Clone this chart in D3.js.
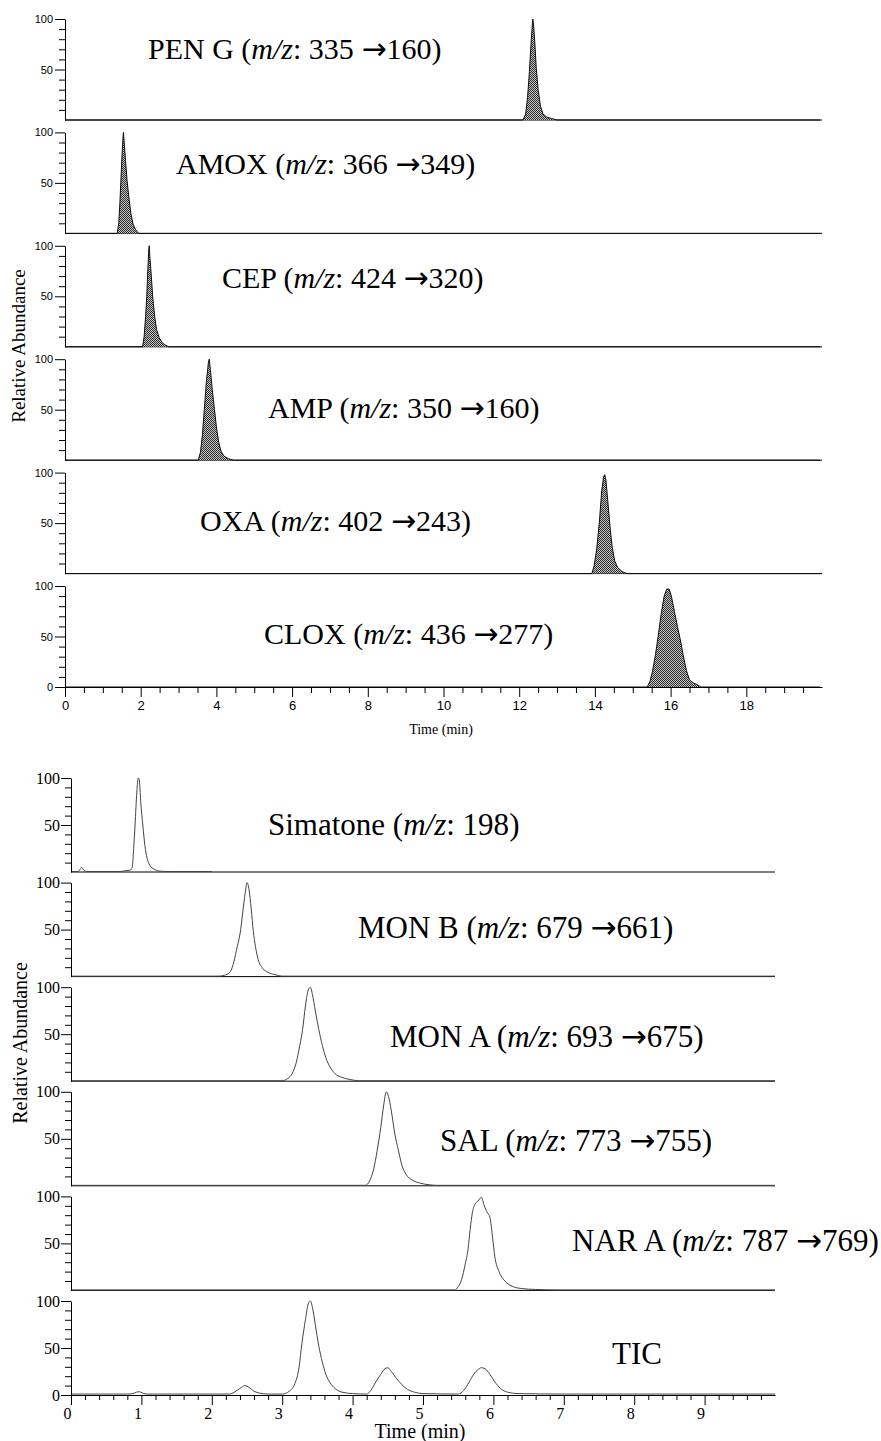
<!DOCTYPE html>
<html>
<head>
<meta charset="utf-8">
<script src="https://cdn.jsdelivr.net/npm/d3@7"></script>
<style>
  html, body { margin: 0; padding: 0; background: #fff; }
  svg { display: block; }
</style>
</head>
<body>
<svg id="chart" width="881" height="1441"></svg>
<script>
// ---------- β-lactam MRM traces (time in min, relative abundance in %) ----------
const lactamNames = ["PEN G", "AMOX", "CEP", "AMP", "OXA", "CLOX"];
const lactamTransitions = ["335 →160", "366 →349", "424 →320", "350 →160", "402 →243", "436 →277"];

const penG = [[0,0],[9.0,0],[12.10,0],[12.17,6],[12.22,22],[12.27,48],[12.32,80],[12.35,96],[12.36,100],[12.38,94],[12.41,78],[12.45,52],[12.50,30],[12.56,14],[12.63,6],[12.72,3],[12.85,1.5],[13.0,0],[19.95,0]];
const amox = [[0,0],[1.38,0],[1.42,10],[1.45,30],[1.48,55],[1.51,80],[1.535,97],[1.545,100],[1.56,92],[1.60,72],[1.64,52],[1.69,35],[1.74,20],[1.80,9],[1.86,4],[1.92,1],[1.96,0],[19.95,0]];
const cep  = [[0,0],[2.05,0],[2.09,10],[2.13,30],[2.16,50],[2.19,78],[2.215,97],[2.225,100],[2.24,90],[2.28,70],[2.32,48],[2.37,30],[2.42,17],[2.49,9],[2.57,4],[2.66,1.5],[2.75,0],[19.95,0]];
const amp  = [[0,0],[3.52,0],[3.58,8],[3.63,25],[3.68,50],[3.74,80],[3.79,97],[3.81,100],[3.84,90],[3.89,70],[3.95,50],[4.00,33],[4.06,18],[4.12,9],[4.20,4],[4.32,1.5],[4.45,0],[19.95,0]];
const oxa  = [[0,0],[13.92,0],[13.98,8],[14.05,25],[14.12,52],[14.18,82],[14.23,96],[14.26,98],[14.29,93],[14.34,72],[14.39,50],[14.45,28],[14.52,13],[14.60,6],[14.72,2],[14.85,0],[19.95,0]];
const clox = [[0,0],[15.38,0],[15.45,5],[15.52,15],[15.60,32],[15.67,50],[15.75,72],[15.83,90],[15.90,97],[15.96,97],[16.02,90],[16.10,75],[16.18,60],[16.25,48],[16.33,32],[16.42,16],[16.50,7],[16.60,4],[16.72,2],[16.80,0],[19.95,0]];
const lactamTraces = [penG, amox, cep, amp, oxa, clox];

const lactamTimeTicks = [0, 2, 4, 6, 8, 10, 12, 14, 16, 18];

// ---------- ionophore / triazine traces ----------
const ionoNames = ["Simatone", "MON B", "MON A", "SAL", "NAR A", "TIC"];
const ionoTransitions = ["198", "679 →661", "693 →675", "773 →755", "787 →769", null];

const simatone = [[0,0.5],[0.10,0.5],[0.13,3],[0.15,5],[0.18,2],[0.22,0.5],[0.70,0.5],[0.78,1.5],[0.84,2],[0.87,5],[0.89,25],[0.91,50],[0.935,85],[0.955,100],[0.97,98],[0.99,75],[1.02,50],[1.05,28],[1.08,15],[1.12,7],[1.18,3],[1.25,1],[1.4,0.5],[2.0,0.5]];
const monB = [[0,0.5],[2.10,0.5],[2.18,1.5],[2.25,4],[2.30,12],[2.35,28],[2.41,50],[2.45,75],[2.48,92],[2.50,100],[2.53,92],[2.56,72],[2.59,48],[2.62,32],[2.66,18],[2.72,9],[2.80,4.5],[2.90,2],[3.0,0.5],[10,0.5]];
const monA = [[0,0.5],[3.00,0.5],[3.08,3],[3.14,8],[3.20,20],[3.25,38],[3.29,55],[3.33,80],[3.37,97],[3.40,100],[3.43,92],[3.47,75],[3.52,55],[3.57,38],[3.62,25],[3.68,15],[3.75,8],[3.85,4],[3.95,2],[4.10,0.5],[10,0.5]];
const sal = [[0,0.5],[4.18,0.5],[4.24,5],[4.30,18],[4.35,38],[4.40,62],[4.44,85],[4.48,100],[4.52,92],[4.56,75],[4.60,55],[4.65,38],[4.70,22],[4.76,12],[4.85,6],[4.95,3],[5.10,1],[5.2,0.5],[10,0.5]];
const narA = [[0,0.5],[5.45,0.5],[5.50,4],[5.55,12],[5.60,28],[5.64,44],[5.67,65],[5.70,82],[5.74,92],[5.78,95],[5.83,99],[5.87,90],[5.92,82],[5.95,78],[5.99,55],[6.02,36],[6.08,20],[6.14,12],[6.19,8],[6.25,5],[6.32,3],[6.40,2],[6.60,1],[6.95,0.5],[10,0.5]];
const tic = [[0,1],[0.8,1],[0.88,1.5],[0.93,3],[0.97,3.5],[1.02,2],[1.08,1],[2.25,1],[2.32,3],[2.40,7],[2.47,10],[2.53,8],[2.60,4],[2.68,2],[2.80,1],[3.00,1],[3.10,4],[3.18,12],[3.24,30],[3.28,55],[3.33,80],[3.37,97],[3.40,100],[3.43,93],[3.47,75],[3.52,52],[3.57,35],[3.62,22],[3.68,13],[3.75,7],[3.85,3],[4.00,1.5],[4.20,1],[4.26,5],[4.33,14],[4.40,22],[4.46,28],[4.50,29],[4.55,25],[4.62,18],[4.70,11],[4.78,6],[4.88,3],[5.00,1.5],[5.50,1],[5.58,5],[5.65,13],[5.72,22],[5.78,27],[5.83,29],[5.88,28],[5.95,22],[6.02,14],[6.10,7],[6.20,3],[6.35,1.5],[7.0,1],[10,1]];
const ionoTraces = [simatone, monB, monA, sal, narA, tic];

const ionoTimeTicks = [0, 1, 2, 3, 4, 5, 6, 7, 8, 9];
const abundanceTicks = [50, 100];

// ---------- drawing ----------
const SERIF = "'Liberation Serif', 'Times New Roman', serif";
const SANS = "'Liberation Sans', Arial, sans-serif";
const ARROW_FONT = "'DejaVu Sans', sans-serif";
const svg = d3.select("#chart");
svg.append("rect").attr("width", 881).attr("height", 1441).attr("fill", "#fff");

// fine checker used for the shaded peaks
const defs = svg.append("defs");
const pat = defs.append("pattern").attr("id", "shade")
  .attr("width", 2).attr("height", 2).attr("patternUnits", "userSpaceOnUse");
pat.append("rect").attr("width", 2).attr("height", 2).attr("fill", "#c8c8c8");
pat.append("rect").attr("x", 0).attr("y", 0).attr("width", 1).attr("height", 1).attr("fill", "#2a2a2a");
pat.append("rect").attr("x", 1).attr("y", 1).attr("width", 1).attr("height", 1).attr("fill", "#2a2a2a");

// "NAME (m/z: a →b)" with italic m/z and a long arrow
function compoundLabel(g, x, y, size, name, trans) {
  const t = g.append("text").attr("x", x).attr("y", y)
    .attr("font-family", SERIF).attr("font-size", size).attr("fill", "#000");
  if (trans === null) { t.text(name); return; }
  t.append("tspan").text(name + " (");
  t.append("tspan").attr("font-style", "italic").text("m/z");
  const parts = trans.split("→");
  t.append("tspan").text(": " + parts[0]);
  if (parts.length > 1) {
    t.append("tspan").attr("font-family", ARROW_FONT).text("→");
    t.append("tspan").text(parts[1]);
  }
  t.append("tspan").text(")");
}

function styleAxis(g, font, size) {
  g.selectAll("path.domain").attr("stroke", "#000").attr("stroke-width", 1);
  g.selectAll(".tick line").attr("stroke", "#000").attr("stroke-width", 1);
  g.selectAll(".tick text").attr("font-family", font).attr("font-size", size).attr("fill", "#000");
}

function drawBlock(cfg) {
  const g = svg.append("g");
  const x = d3.scaleLinear().domain(cfg.domain).range(cfg.xRange);
  const n = cfg.traces.length;

  cfg.traces.forEach((trace, i) => {
    const base = cfg.base0 + i * cfg.pitch;
    const y = d3.scaleLinear().domain([0, 100]).range([base, base - cfg.height]);
    const last = i === n - 1;

    // baseline of each strip
    if (!last) {
      g.append("line").attr("x1", cfg.xRange[0]).attr("x2", cfg.xRange[1])
        .attr("y1", base).attr("y2", base).attr("stroke", "#000").attr("stroke-width", 1);
    }

    if (cfg.filled) {
      const area = d3.area().x(d => x(d[0])).y0(y(0)).y1(d => y(d[1])).curve(d3.curveLinear);
      g.append("path").datum(trace).attr("d", area).attr("fill", "url(#shade)");
      const line = d3.line().x(d => x(d[0])).y(d => y(d[1])).curve(d3.curveLinear);
      g.append("path").datum(trace).attr("d", line).attr("fill", "none")
        .attr("stroke", "#111").attr("stroke-width", 1);
    } else {
      const line = d3.line().x(d => x(d[0])).y(d => y(d[1])).curve(d3.curveMonotoneX);
      g.append("path").datum(trace).attr("d", line).attr("fill", "none")
        .attr("stroke", "#444").attr("stroke-width", 1);
    }

    // abundance axis
    const major = last ? [0].concat(abundanceTicks) : abundanceTicks;
    const ya = g.append("g").attr("transform", `translate(${cfg.xRange[0]},0)`)
      .call(d3.axisLeft(y).tickValues(major).tickSize(cfg.yTick).tickSizeOuter(0).tickPadding(cfg.yPad));
    styleAxis(ya, cfg.yFont, cfg.yFontSize);
    const minor = d3.range(10, 100, 10).filter(v => v !== 50);
    const ym = g.append("g").attr("transform", `translate(${cfg.xRange[0]},0)`)
      .call(d3.axisLeft(y).tickValues(minor).tickSize(cfg.yMinor).tickFormat(""));
    ym.select("path.domain").remove();
    styleAxis(ym, cfg.yFont, cfg.yFontSize);

    compoundLabel(g, cfg.labelX[i], cfg.labelY[i], cfg.labelSize, cfg.names[i], cfg.transitions[i]);

    if (last) {
      const xa = g.append("g").attr("transform", `translate(0,${base})`)
        .call(d3.axisBottom(x).tickValues(cfg.timeTicks).tickSize(cfg.xTick).tickSizeOuter(0).tickPadding(cfg.xPad));
      styleAxis(xa, cfg.xFont, cfg.xFontSize);
      xa.selectAll(".tick text").attr("dx", cfg.xLabelShift);
      const minorT = d3.range(cfg.domain[0], cfg.domain[1] + 1e-9, cfg.minorStep)
        .filter(v => cfg.timeTicks.every(t => Math.abs(t - v) > 1e-6) && v < cfg.domain[1] - 1e-6);
      const xm = g.append("g").attr("transform", `translate(0,${base})`)
        .call(d3.axisBottom(x).tickValues(minorT).tickSize(cfg.xMinor).tickFormat(""));
      xm.select("path.domain").remove();
      styleAxis(xm, cfg.xFont, cfg.xFontSize);

      g.append("text").attr("x", cfg.timeTitle[0]).attr("y", cfg.timeTitle[1])
        .attr("text-anchor", "middle").attr("font-family", SERIF)
        .attr("font-size", cfg.timeTitle[2]).text("Time (min)");
    }
  });

  g.append("text")
    .attr("transform", `translate(${cfg.yTitle[0]},${cfg.yTitle[1]}) rotate(-90)`)
    .attr("text-anchor", "middle").attr("font-family", SERIF)
    .attr("font-size", cfg.yTitle[2]).text("Relative Abundance");
}

drawBlock({
  traces: lactamTraces, names: lactamNames, transitions: lactamTransitions,
  domain: [0, 20], xRange: [65, 822], filled: true,
  base0: 120, pitch: 113.4, height: 101,
  yTick: 10, yMinor: 6, yPad: 2, yFont: SANS, yFontSize: 11,
  timeTicks: lactamTimeTicks, xTick: 10, xMinor: 6, xPad: 4, xFont: SANS, xFontSize: 13, xLabelShift: 0,
  minorStep: 0.5,
  labelX: [148, 176, 222, 268, 200, 264], labelY: [59, 174, 288, 418, 531, 644], labelSize: 30,
  timeTitle: [441, 734, 14], yTitle: [25, 346, 19]
});

drawBlock({
  traces: ionoTraces, names: ionoNames, transitions: ionoTransitions,
  domain: [0, 10], xRange: [71, 775], filled: false,
  base0: 872, pitch: 104.6, height: 94,
  yTick: 10, yMinor: 6, yPad: 1, yFont: SERIF, yFontSize: 16,
  timeTicks: ionoTimeTicks, xTick: 10, xMinor: 5, xPad: 3, xFont: SERIF, xFontSize: 16, xLabelShift: -4,
  minorStep: 0.2,
  labelX: [268, 358, 390, 440, 572, 612], labelY: [835, 938, 1047, 1151, 1251, 1364], labelSize: 31,
  timeTitle: [420, 1438, 20], yTitle: [27, 1043, 20]
});
</script>
</body>
</html>
